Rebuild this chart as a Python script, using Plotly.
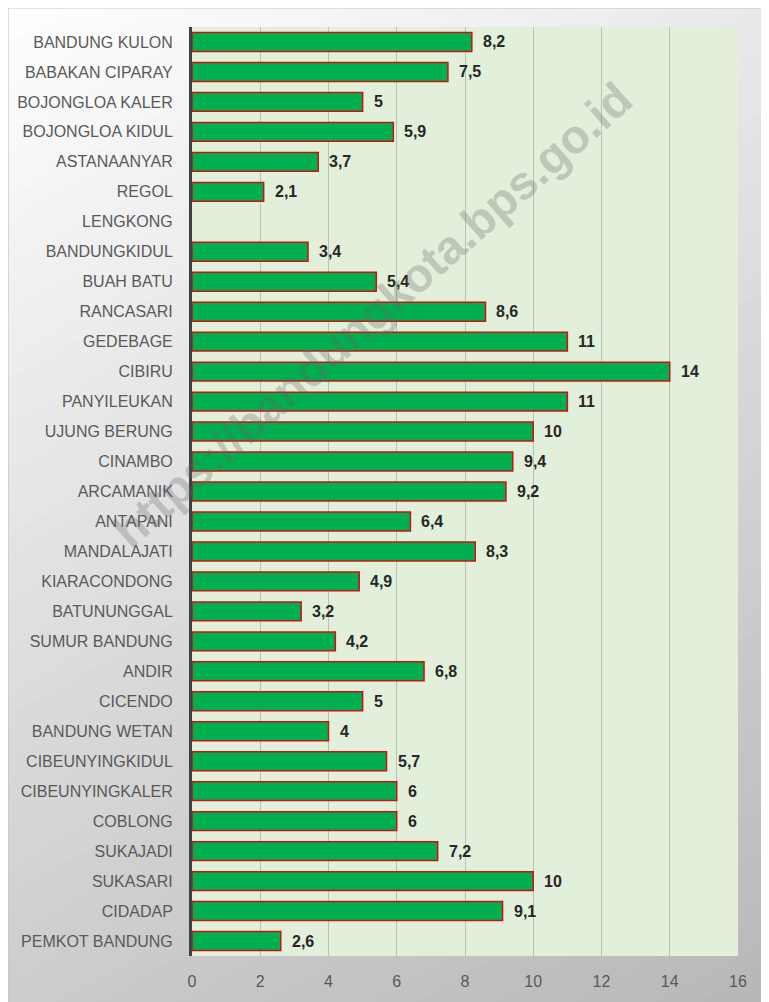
import plotly.graph_objects as go

# kecamatan, top to bottom as in the chart
kecamatan = [
    "BANDUNG KULON", "BABAKAN CIPARAY", "BOJONGLOA KALER", "BOJONGLOA KIDUL",
    "ASTANAANYAR", "REGOL", "LENGKONG", "BANDUNGKIDUL", "BUAH BATU", "RANCASARI",
    "GEDEBAGE", "CIBIRU", "PANYILEUKAN", "UJUNG BERUNG", "CINAMBO", "ARCAMANIK",
    "ANTAPANI", "MANDALAJATI", "KIARACONDONG", "BATUNUNGGAL", "SUMUR BANDUNG",
    "ANDIR", "CICENDO", "BANDUNG WETAN", "CIBEUNYINGKIDUL", "CIBEUNYINGKALER",
    "COBLONG", "SUKAJADI", "SUKASARI", "CIDADAP", "PEMKOT BANDUNG",
]
nilai = [
    8.2, 7.5, 5, 5.9, 3.7, 2.1, None, 3.4, 5.4, 8.6,
    11, 14, 11, 10, 9.4, 9.2, 6.4, 8.3, 4.9, 3.2, 4.2,
    6.8, 5, 4, 5.7, 6, 6, 7.2, 10, 9.1, 2.6,
]
x_ticks = [0, 2, 4, 6, 8, 10, 12, 14, 16]
watermark = "https://bandungkota.bps.go.id"

# the page body adds an 8px margin, so the figure is 8px smaller than the window
OFF = 8
W, H = 769 - OFF, 1002 - OFF
L, R, T, B = 192 - OFF, 31, 27 - OFF, 46
pw, ph = W - L - R, H - T - B


def to_paper(px, py):
    # px, py are window pixels
    return (px - OFF - L) / pw, (H + OFF - B - py) / ph


fig = go.Figure()

fig.add_trace(go.Bar(
    y=kecamatan, x=nilai, orientation="h",
    marker=dict(color="#00b050", line=dict(color="#d01010", width=1.5)),
    hoverinfo="x+y",
))

# value labels, comma as decimal separator
annotations = []
for k, v in zip(kecamatan, nilai):
    if v is None:
        continue
    label = ("%g" % v).replace(".", ",")
    annotations.append(dict(
        x=v, y=k, xref="x", yref="y", text=label, showarrow=False,
        xanchor="left", xshift=9,
        font=dict(family="Liberation Sans, Arial", size=16, color="#262626", weight="bold"),
    ))

wx, wy = to_paper(372, 314)
annotations.append(dict(
    x=wx, y=wy, xref="paper", yref="paper", text="<b>" + watermark + "</b>",
    xanchor="center", yanchor="middle",
    showarrow=False, textangle=-41.5,
    font=dict(family="Liberation Sans, Arial", size=47, color="rgba(100,100,100,0.3)"),
))

# grey diagonal background gradient (Excel chart area fill)
shapes = []
n = 70
t_lo, t_hi = -0.05, 1.05
step = (t_hi - t_lo) / n
for i in range(n):
    t0 = t_lo + i * step
    t1 = t0 + step * 1.05
    tm = t0 + step / 2
    g = int(round(max(183, min(255, 255 - 72 * max(tm, 0)))))
    pts = []
    for (u, t) in [(-0.05, t0), (1.05, t0), (1.05, t1), (-0.05, t1)]:
        v = (t - 0.3 * u) / 0.7
        px = 5 + u * (769 - 5)
        py = 3 + v * (1002 - 3)
        pts.append(to_paper(px, py))
    path = "M %f,%f L %f,%f L %f,%f L %f,%f Z" % tuple(c for p in pts for c in p)
    shapes.append(dict(type="path", path=path, xref="paper", yref="paper",
                       fillcolor="rgb(%d,%d,%d)" % (g, g, g), line=dict(width=0), layer="below"))

# thin frame round the chart area
x0, y0 = to_paper(OFF, OFF)
x1, y1 = to_paper(769, 1002)
shapes.append(dict(type="rect", xref="paper", yref="paper", x0=x0, x1=x1 + 0.01, y0=y1 - 0.01, y1=y0,
                   line=dict(color="#c4c4c4", width=1.2), layer="below"))

# plot area fill (shapes sit above plot_bgcolor)
shapes.append(dict(type="rect", xref="paper", yref="paper", x0=0, x1=1, y0=0, y1=1,
                   fillcolor="#e2efda", line=dict(width=0), layer="below"))

fig.update_layout(
    width=W, height=H,
    margin=dict(l=L, r=R, t=T, b=B),
    paper_bgcolor="white",
    plot_bgcolor="#e2efda",
    bargap=0.37,
    showlegend=False,
    annotations=annotations,
    shapes=shapes,
)

fig.update_xaxes(
    range=[0, 16], tickvals=x_ticks, ticktext=[str(t) for t in x_ticks],
    showgrid=True, gridcolor="#b9c2b3", gridwidth=1,
    zeroline=False, showline=False, ticks="",
    tickfont=dict(family="Liberation Sans Narrow, Arial Narrow, Liberation Sans", size=16, color="#595959"),
    ticklabelstandoff=14,
    automargin=False,
    fixedrange=True,
)
fig.update_yaxes(
    categoryorder="array", categoryarray=kecamatan,
    range=[len(kecamatan) - 0.5, -0.5],
    showline=True, linecolor="#404040", linewidth=3,
    showgrid=False, ticks="",
    tickfont=dict(family="Liberation Sans, Arial", size=16, color="#595959"),
    ticklabelstandoff=13,
    automargin=False,
    fixedrange=True,
)

fig.write_html("out.html")
